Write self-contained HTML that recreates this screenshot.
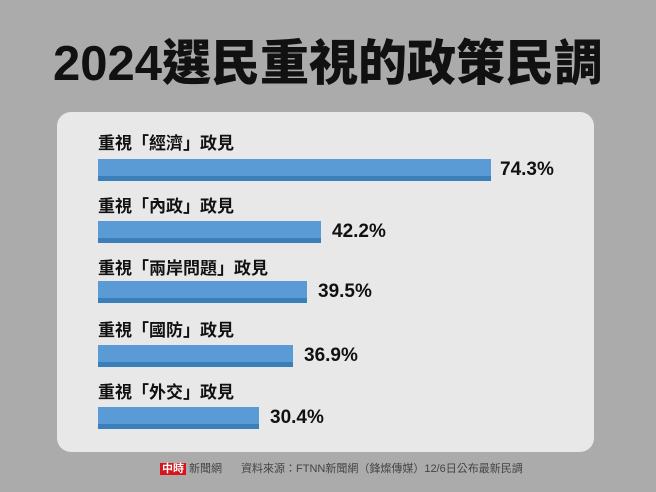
<!DOCTYPE html><html><head><meta charset="utf-8"><style>
body{margin:0;width:656px;height:492px;background:#ababab;position:relative;overflow:hidden;font-family:"Liberation Sans","Noto Sans CJK TC",sans-serif}
.t{position:absolute;top:29px;left:0;width:656px;text-align:center;font-size:49px;font-weight:900;color:#111;line-height:70px}
.p{position:absolute;left:57px;top:112px;width:537px;height:340px;background:#e8e8e8;border-radius:14px}
.l{position:absolute;left:98px;font-size:17px;font-weight:700;color:#111;line-height:22px}
.b{position:absolute;left:98px;height:22px;background:#5b9bd5;border-bottom:5px solid #3a7fba;box-sizing:border-box}
.v{position:absolute;font-size:19px;font-weight:700;color:#111;line-height:22px}
.f{position:absolute;top:460px;font-size:11px;color:#444}
</style></head><body>
<div class="t">2024選民重視的政策民調</div>
<div class="p"></div>
<div class="l" style="top:133px">重視「經濟」政見</div><div class="b" style="top:159px;width:393px"></div><div class="v" style="top:159px;left:500px">74.3%</div>
<div class="l" style="top:196px">重視「內政」政見</div><div class="b" style="top:221px;width:223px"></div><div class="v" style="top:221px;left:332px">42.2%</div>
<div class="l" style="top:258px">重視「兩岸問題」政見</div><div class="b" style="top:281px;width:209px"></div><div class="v" style="top:281px;left:318px">39.5%</div>
<div class="l" style="top:320px">重視「國防」政見</div><div class="b" style="top:345px;width:195px"></div><div class="v" style="top:345px;left:304px">36.9%</div>
<div class="l" style="top:382px">重視「外交」政見</div><div class="b" style="top:407px;width:161px"></div><div class="v" style="top:407px;left:270px">30.4%</div>
<div class="f" style="left:160px"><span style="background:#d7141a;color:#fff;font-weight:700;padding:0 2px">中時</span> 新聞網</div>
<div class="f" style="left:241px">資料來源：FTNN新聞網（鋒燦傳媒）12/6日公布最新民調</div>
</body></html>
